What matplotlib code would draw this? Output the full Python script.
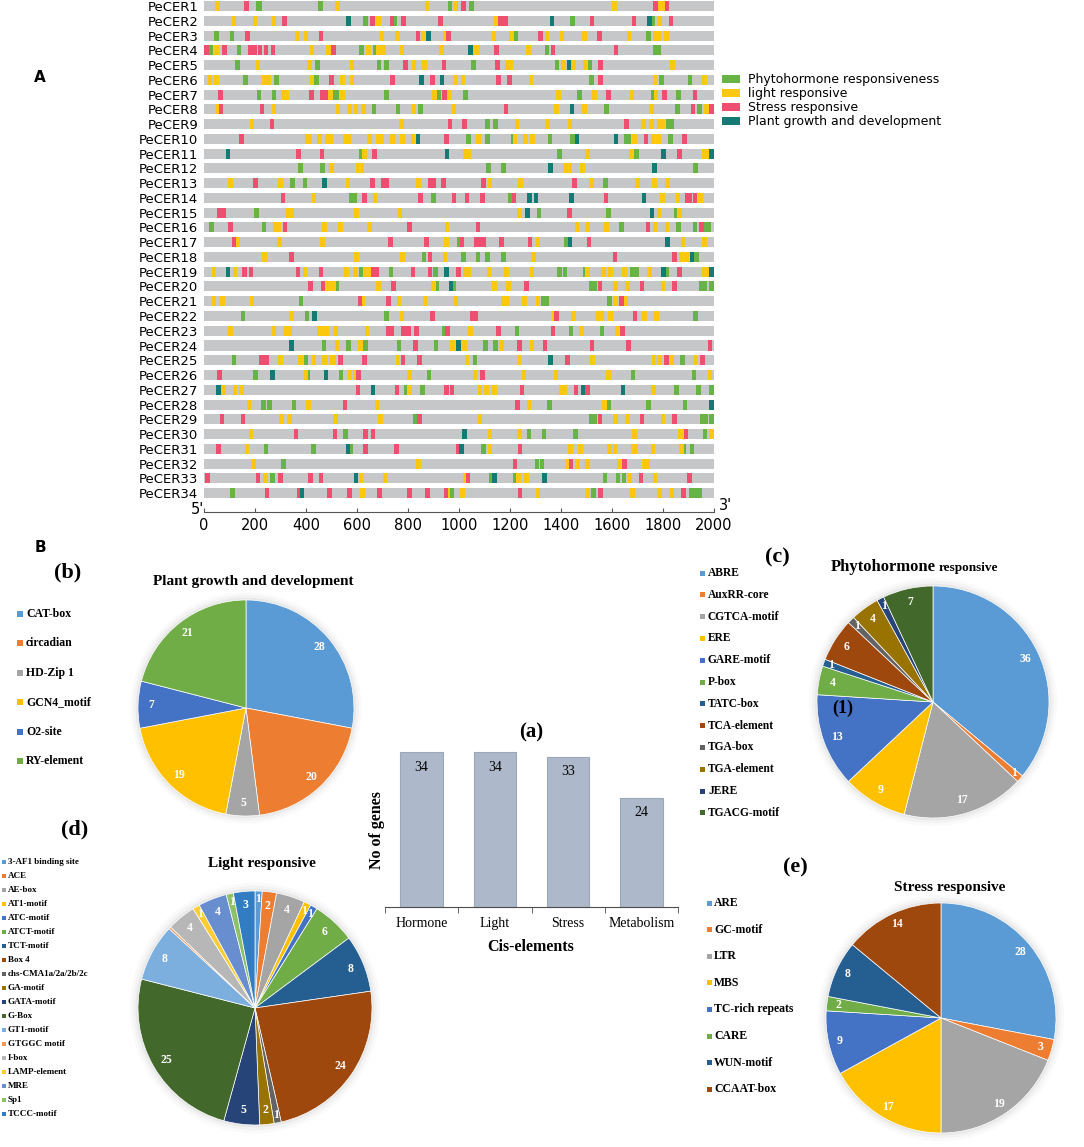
import numpy as np
import matplotlib.pyplot as plt
from matplotlib.patches import Rectangle, Circle

W, H = 1084, 1147
SERIF = 'Liberation Serif'

# ---- panel A: promoter cis-elements (type letter + position, bp upstream) ----
genes = [f'PeCER{i}' for i in range(1, 35)]
elements = [
    "L54 S166 P211 P220 P456 L524 L874 P964 L986 S1018 P1049 L1609 S1770 L1788 L1798 S1815",
    "L117 L200 L274 S315 G567 P634 S661 L684 S738 P747 S783 S927 L1148 S1161 S1172 S1182 G1364 P1445 S1521 S1687 G1748 P1760 L1786 S1832",
    "P49 P110 S171 L365 L400 S459 L698 L758 S839 L859 G880 L945 S959 L1138 L1206 P1224 S1319 L1345 L1404 L1492 S1552 L1667 P1742 L1770 L1784 L1813",
    "S9 P27 L49 S81 P137 S182 S200 S220 S243 S270 L423 L488 S508 P617 L644 P671 L684 L704 L776 L932 G1046 L1060 L1072 S1148 L1273 P1345 S1368 S1616 P1770 P1784",
    "P131 L211 L414 P446 L581 P686 P715 S790 L823 L864 S941 P1058 S1152 L1190 L1204 P1384 L1409 G1431 L1449 L1494 P1514 S1555 L1838",
    "L23 L49 P162 L234 L252 P284 L423 P441 S499 L544 L581 S740 G853 S896 G934 L985 L1015 S1156 S1197 L1283 P1519 S1555 L1769 P1793 P1906 L1962",
    "S65 P216 P275 L312 L326 S421 S464 S476 L495 P510 P522 L542 P715 L905 P922 S944 L958 P1026 L1391 P1472 L1531 S1587 L1678 P1760 L1773 S1805 P1861 S1926",
    "L58 S67 S227 L274 L526 L572 L596 L625 P666 P760 L823 P848 L981 S1184 L1382 G1443 L1492 P1578 L1755 P1857 S1917 P1944 L1971 S1990",
    "L189 S266 L774 S964 S1021 P1112 P1143 L1228 L1347 L1436 S1656 L1724 L1755 L1784 L1798 P1822 P1834",
    "S148 L404 L416 L454 L484 L496 L556 L568 L649 L684 L696 L740 L778 L819 G839 S950 P1038 L1076 P1112 P1211 L1220 L1261 L1288 P1357 P1445 G1463 G1615 P1655 P1667 L1688 S1733 L1760 L1782 P1829 S1885",
    "G94 S371 S463 P617 L630 S668 G953 L1026 L1038 P1393 L1503 L1676 P1697 G1802 S1865 L1961 L1973 G1990",
    "P378 P464 L499 L606 L618 P1116 P1175 G1359 L1417 L1436 L1485 G1767 P1927",
    "L104 S203 L301 P346 P396 G472 L564 S661 S705 S717 L841 S889 S901 S939 S1097 L1122 L1241 S1454 L1519 P1575 L1701 L1767 L1818",
    "S310 L432 P579 P591 S630 L671 S850 P899 S981 S1032 S1093 P1203 S1215 G1277 G1302 G1441 S1576 G1726 L1798 L1859 S1894 S1906 S1926 L1947",
    "S59 S76 P207 L332 L344 L598 L769 L1237 G1269 P1314 S1433 P1586 G1757 L1784 P1852 L1865",
    "P29 S103 P236 L280 L292 S317 L472 L535 L650 S805 L953 S1074 L1462 L1505 L1579 P1638 S1741 L1769 L1816 P1861 P1926 S1950 P1969 P1981",
    "S117 L131 L297 L464 S731 S873 L950 P1001 S1012 S1066 S1083 S1095 S1166 S1278 L1310 P1422 G1435 S1510 G1818 L1879 L1962",
    "L238 S344 L598 L778 P862 S887 L945 P1017 P1075 P1111 P1175 L1292 S1611 S1845 L1870 L1892 G1913 P1931",
    "L40 G94 L121 S158 S185 S369 L396 S459 L558 L594 P617 L634 L648 S665 S677 P734 S819 S887 P907 G952 S999 L1025 L1037 L1117 L1186 L1287 P1393 P1416 P1495 L1504 L1566 L1593 L1650 P1679 P1695 L1746 G1802 P1813 S1865 L1961 L1973 G1990",
    "S418 S467 L488 P495 L508 P522 L684 S742 L900 P913 G968 P979 L1139 L1193 S1265 P1520 P1532 S1553 L1614 L1661 S1718 L1800 S1845 P1952 P1964 P1990",
    "L40 L72 L189 P380 S612 L621 S724 L765 L866 L988 L1174 L1186 L1256 L1309 P1332 P1344 P1590 L1614 S1638 L1654",
    "P153 L342 P404 G434 P715 L776 S896 S1052 S1064 L1373 S1382 L1449 L1546 L1558 L1595 S1690 L1727 L1775 P1927",
    "L104 L274 L323 L335 L454 L471 L483 L515 L639 S723 S735 S783 S801 S834 P943 S956 L1044 S1156 P1228 S1368 P1440 L1481 P1561 L1620 S1642",
    "G342 P470 L522 P567 L614 P634 P765 S830 P909 L974 G999 L1021 P1103 P1143 L1166 S1238 L1287 S1337 S1521 S1665 S1985",
    "P117 S225 S245 L299 L378 P400 L429 L472 L498 L510 S535 S630 L761 S781 S846 L1031 P1062 L1236 G1359 S1425 L1524 L1764 L1786 S1813 L1836 P1877 L1930 S1955",
    "S61 P203 G268 L400 P407 G479 P538 L572 L594 S605 L805 P882 L1062 S1093 L1255 L1381 L1586 P1683 P1921 L1985",
    "G58 L76 L122 L148 S604 G663 S757 P793 L807 P856 S951 S973 L1083 L1107 L1139 S1247 L1403 L1415 S1459 G1486 S1503 G1643 L1762 P1854 P1939 P1990",
    "L176 P234 P256 P353 L409 S553 L679 S1229 L1274 P1354 L1570 P1588 P1742 P1886 G1990",
    "S70 S153 L304 L335 L515 L691 P827 S846 L1083 P1520 P1532 S1553 L1614 L1661 S1718 L1800 S1845 P1956 P1968 P1990",
    "L184 S360 S513 P556 S634 S663 G1021 L1121 L1238 P1274 P1334 P1456 L1688 L1868 S1890 P1965 L1990",
    "S58 L168 P243 P429 G564 P575 S634 S755 S996 G1010 P1096 L1121 S1240 L1438 L1477 L1591 L1612 L1682 L1694 L1760 L1872 P1881 P1913",
    "L195 P312 L842 S1220 P1306 P1326 L1425 S1440 L1465 L1504 L1630 S1650 L1727 L1739",
    "S13 S211 L240 P268 S301 S418 S459 G596 L616 L709 L1024 S1035 P1125 G1139 P1222 L1233 L1265 G1336 P1572 P1624 P1647 L1668 S1714 L1769 S1904",
    "P112 S247 S373 G384 S492 S571 L621 S688 S807 S877 S949 L956 P973 L1013 S1240 L1310 L1504 P1528 S1555 L1681 L1786 L1836 S1881 P1911 P1932 P1944",
]
type_names = {'P': 'Phytohormone responsiveness', 'L': 'light responsive',
              'S': 'Stress responsive', 'G': 'Plant growth and development'}
type_colors = {'P': '#67b346', 'L': '#fcc80f', 'S': '#ee4e70', 'G': '#137b73'}

# ---- panel B data ----
bar_cats = ['Hormone', 'Light', 'Stress', 'Metabolism']
bar_vals = [34, 34, 33, 24]

growth_labels = ['CAT-box', 'circadian', 'HD-Zip 1', 'GCN4_motif', 'O2-site', 'RY-element']
growth_vals = [28, 20, 5, 19, 7, 21]

hormone_labels = ['ABRE', 'AuxRR-core', 'CGTCA-motif', 'ERE', 'GARE-motif', 'P-box', 'TATC-box',
                  'TCA-element', 'TGA-box', 'TGA-element', 'JERE', 'TGACG-motif']
hormone_vals = [36, 1, 17, 9, 13, 4, 1, 6, 1, 4, 1, 7]

light_labels = ['3-AF1 binding site', 'ACE', 'AE-box', 'AT1-motif', 'ATC-motif', 'ATCT-motif',
                'TCT-motif', 'Box 4', 'chs-CMA1a/2a/2b/2c', 'GA-motif', 'GATA-motif', 'G-Box',
                'GT1-motif', 'GTGGC motif', 'I-box', 'LAMP-element', 'MRE', 'Sp1', 'TCCC-motif']
light_vals = [1, 2, 4, 1, 1, 6, 8, 24, 1, 2, 5, 25, 8, 0.3, 4, 1, 4, 1, 3]

stress_labels = ['ARE', 'GC-motif', 'LTR', 'MBS', 'TC-rich repeats', 'CARE', 'WUN-motif', 'CCAAT-box']
stress_vals = [28, 3, 19, 17, 9, 2, 8, 14]

office = ['#5b9bd5', '#ed7d31', '#a5a5a5', '#ffc000', '#4472c4', '#70ad47',
          '#255e91', '#9e480e', '#636363', '#997300', '#264478', '#43682b',
          '#7cafdd', '#f1975a', '#b7b7b7', '#ffcd33', '#698ed0', '#8cc168', '#327dc2']

fig = plt.figure(figsize=(W / 100, H / 100), dpi=100)


def px_axes(x0, y0, x1, y1):
    return fig.add_axes([x0 / W, 1 - y1 / H, (x1 - x0) / W, (y1 - y0) / H])


ov = fig.add_axes([0, 0, 1, 1], zorder=10)
ov.set_xlim(0, W)
ov.set_ylim(H, 0)
ov.axis('off')

# ================= panel A =================
ax = px_axes(204, 0, 714, 512)
rows = np.arange(1, len(genes) + 1)
ax.barh(rows, 2000, left=0, height=0.68, color='#c6c7c9')
EW = 18
by_type = {k: ([], []) for k in type_colors}
for row, s in zip(rows, elements):
    for tok in s.split():
        pos = float(tok[1:])
        by_type[tok[0]][0].append(row)
        by_type[tok[0]][1].append(min(max(pos - EW / 2, 0), 2000 - EW))
for k, (ys, lefts) in by_type.items():
    ax.barh(ys, EW, left=lefts, height=0.68, color=type_colors[k], lw=0)
ax.set_xlim(0, 2000)
ax.set_ylim(35.28, 0.593)
for s in ['top', 'right', 'left']:
    ax.spines[s].set_visible(False)
ax.spines['bottom'].set_color('#555555')
ax.spines['bottom'].set_linewidth(0.8)
ax.set_yticks(rows)
ax.set_yticklabels(genes, fontsize=9.5)
ax.tick_params(axis='y', length=0, pad=4)
ax.set_xticks(range(0, 2001, 200))
ax.tick_params(axis='x', direction='in', length=3, pad=4.3, labelsize=10.5, color='#555555')
ov.text(197, 510, "5'", fontsize=10.5, ha='center', va='center')
ov.text(725, 506, "3'", fontsize=10.5, ha='center', va='center')

for i, k in enumerate(['P', 'L', 'S', 'G']):
    ov.add_patch(Rectangle((722, 75 + 14 * i), 18, 8, color=type_colors[k], lw=0))
    ov.text(748, 79 + 14 * i, type_names[k], fontsize=9, va='center', ha='left')

ov.text(40, 78, 'A', fontsize=11, fontweight='bold', ha='center', va='center')
ov.text(40, 548, 'B', fontsize=11, fontweight='bold', ha='center', va='center')


# ================= panel B =================
def draw_pie(cx, cy, r, vals, dist=0.88):
    pax = px_axes(cx - r, cy - r, cx + r, cy + r)
    for k, a in [(1.07, 0.04), (1.045, 0.06), (1.02, 0.10)]:
        pax.add_patch(Circle((0, 0), k, color='#8a8a8a', alpha=a, lw=0, clip_on=False))
    wedges, _ = pax.pie(vals, colors=office[:len(vals)], startangle=90, counterclock=False,
                        radius=1, wedgeprops=dict(edgecolor='white', linewidth=0.5))
    pax.set_xlim(-1, 1)
    pax.set_ylim(-1, 1)
    for w, v in zip(wedges, vals):
        if v < 0.5:
            continue
        th = np.deg2rad((w.theta1 + w.theta2) / 2)
        d = dist if v > 1.5 else 0.93
        pax.text(d * np.cos(th), d * np.sin(th), f'{v:g}', color='white', ha='center',
                 va='center', fontsize=8.5, fontweight='bold', family=SERIF)
    return pax


def draw_legend(x, y0, dy, labels, size, fs, gap=3):
    for i, lab in enumerate(labels):
        y = y0 + i * dy
        ov.add_patch(Rectangle((x, y - size / 2), size, size, color=office[i], lw=0))
        ov.text(x + size + gap, y, lab, va='center', ha='left', fontsize=fs,
                fontweight='bold', family=SERIF)


# (b) plant growth
draw_pie(246, 708, 108, growth_vals)
draw_legend(17, 614, 29.4, growth_labels, 6, 8.5)
ov.text(68, 572, '(b)', fontsize=16, fontweight='bold', family=SERIF, ha='center', va='center')
ov.text(253, 582, 'Plant growth and development', fontsize=11, fontweight='bold',
        family=SERIF, ha='center', va='center')

# (c) phytohormone
draw_pie(933, 702, 116, hormone_vals)
draw_legend(700, 573, 21.8, hormone_labels, 5, 8.3)
ov.text(777, 557, '(c)', fontsize=16, fontweight='bold', family=SERIF, ha='center', va='center')
ov.text(936, 571, 'Phytohormone', fontsize=12, fontweight='bold', family=SERIF, ha='right', va='baseline')
ov.text(939, 571, 'responsive', fontsize=9.5, fontweight='bold', family=SERIF, ha='left', va='baseline')
ov.text(843, 708, '(1)', fontsize=13, fontweight='bold', family=SERIF, ha='center', va='center')

# (d) light
draw_pie(255, 1008, 117, light_vals)
draw_legend(2, 862, 14, light_labels, 4, 6.5, gap=2)
ov.text(75, 829, '(d)', fontsize=16, fontweight='bold', family=SERIF, ha='center', va='center')
ov.text(262, 863, 'Light responsive', fontsize=11, fontweight='bold', family=SERIF,
        ha='center', va='center')

# (e) stress
draw_pie(941, 1018, 115, stress_vals, dist=0.9)
draw_legend(707, 903, 26.6, stress_labels, 5, 8.5, gap=2)
ov.text(795, 867, '(e)', fontsize=16, fontweight='bold', family=SERIF, ha='center', va='center')
ov.text(950, 887, 'Stress responsive', fontsize=11, fontweight='bold', family=SERIF,
        ha='center', va='center')

# (a) bar chart
bx = px_axes(385, 752, 678, 907)
xs = np.arange(len(bar_cats))
bx.bar(xs, bar_vals, width=0.58, color='#adb9ca', edgecolor='#9aa7b9', lw=0.8, clip_on=False)
bx.set_xlim(-0.5, 3.5)
bx.set_ylim(0, 34)
for s in ['top', 'right', 'left']:
    bx.spines[s].set_visible(False)
bx.spines['bottom'].set_color('#4d4d4d')
bx.set_yticks([])
bx.set_xticks(xs)
bx.set_xticklabels(bar_cats, family=SERIF, fontsize=10)
bx.set_xticks(np.arange(-0.5, 4, 1), minor=True)
bx.tick_params(axis='x', which='major', length=0, pad=7)
bx.tick_params(axis='x', which='minor', length=4, color='#4d4d4d')
for xi, v in zip(xs, bar_vals):
    bx.text(xi, v - 3.3, str(v), ha='center', va='center', family=SERIF, fontsize=10)
ov.text(531, 732, '(a)', fontsize=15, fontweight='bold', family=SERIF, ha='center', va='center')
ov.text(377, 830, 'No of genes', fontsize=11.5, fontweight='bold', family=SERIF,
        rotation=90, ha='center', va='center')
ov.text(531, 947, 'Cis-elements', fontsize=11.5, fontweight='bold', family=SERIF,
        ha='center', va='center')

fig.savefig('out.png', dpi=100, facecolor='white')
